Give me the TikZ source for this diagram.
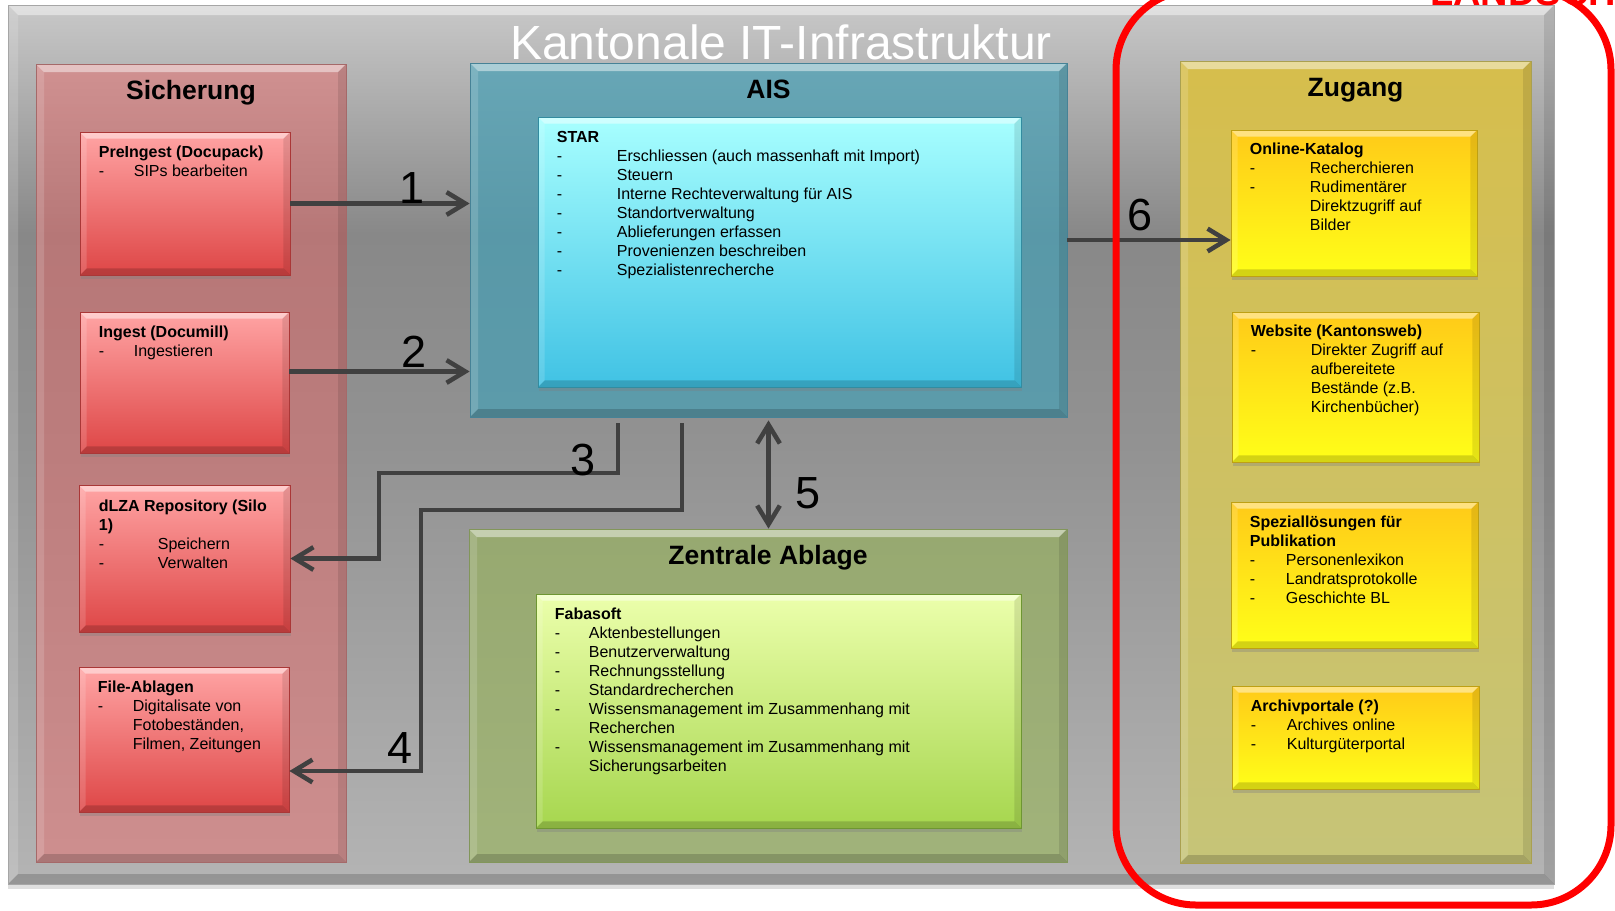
\documentclass[tikz,border=0pt]{standalone}
\usepackage{fontspec}
\setmainfont{Liberation Sans}
\usetikzlibrary{arrows.meta,shadows,fit}

\definecolor{bgtop}{RGB}{200,200,200}
\definecolor{bgdark}{RGB}{136,136,136}
\definecolor{bgmid}{RGB}{146,146,146}
\definecolor{bgbot}{RGB}{180,180,180}
\definecolor{redtop}{RGB}{255,164,164}
\definecolor{redbot}{RGB}{222,70,70}
\definecolor{redline}{RGB}{170,55,55}
\definecolor{startop}{RGB}{168,255,255}
\definecolor{starbot}{RGB}{64,194,228}
\definecolor{starline}{RGB}{50,140,160}
\definecolor{fabtop}{RGB}{236,255,172}
\definecolor{fabbot}{RGB}{166,214,78}
\definecolor{fabline}{RGB}{110,150,50}
\definecolor{yeltop}{RGB}{255,202,24}
\definecolor{yelbot}{RGB}{255,255,24}
\definecolor{yelline}{RGB}{190,160,20}
\definecolor{sichfill}{RGB}{240,100,100}
\definecolor{sichline}{RGB}{165,105,105}
\definecolor{aisfill}{RGB}{70,160,182}
\definecolor{aisline}{RGB}{70,130,150}
\definecolor{zenfill}{RGB}{150,180,86}
\definecolor{zenline}{RGB}{130,150,90}
\definecolor{zugtop}{RGB}{214,190,76}
\definecolor{zugbot}{RGB}{198,196,120}
\definecolor{zugline}{RGB}{170,160,80}
\definecolor{arrowgray}{RGB}{64,64,64}

\pgfdeclareverticalshading{bgshade}{100bp}{color(0bp)=(bgbot); color(25bp)=(bgbot); color(50bp)=(bgmid); color(62bp)=(bgdark); color(75bp)=(bgtop); color(100bp)=(bgtop)}

\begin{document}
\begin{tikzpicture}[x=0.75pt,y=0.75pt,yscale=-1,xscale=1,
  bevel/.style={path picture={
    \fill[white,opacity=.45] (path picture bounding box.north west) -- (path picture bounding box.north east) -- ([xshift=-#1,yshift=-#1]path picture bounding box.north east) -- ([xshift=#1,yshift=-#1]path picture bounding box.north west) -- cycle;
    \fill[white,opacity=.15] (path picture bounding box.north west) -- ([xshift=#1,yshift=-#1]path picture bounding box.north west) -- ([xshift=#1,yshift=#1]path picture bounding box.south west) -- (path picture bounding box.south west) -- cycle;
    \fill[black,opacity=.1] (path picture bounding box.north east) -- ([xshift=-#1,yshift=-#1]path picture bounding box.north east) -- ([xshift=-#1,yshift=#1]path picture bounding box.south east) -- (path picture bounding box.south east) -- cycle;
    \fill[black,opacity=.17] (path picture bounding box.south west) -- (path picture bounding box.south east) -- ([xshift=-#1,yshift=#1]path picture bounding box.south east) -- ([xshift=#1,yshift=#1]path picture bounding box.south west) -- cycle;
  }},
  bevel/.default=5pt,
  panel/.style={inner sep=0pt, line width=0.6pt, bevel=6pt},
  box/.style={inner sep=0pt, line width=0.6pt, bevel=5pt, drop shadow={opacity=.35,shadow xshift=1pt,shadow yshift=-3pt}},
  redbox/.style={box, draw=redline, top color=redtop, bottom color=redbot},
  starbox/.style={box, draw=starline, top color=startop, bottom color=starbot},
  fabbox/.style={box, draw=fabline, top color=fabtop, bottom color=fabbot},
  yelbox/.style={box, draw=yelline, top color=yeltop, bottom color=yelbot},
  boxtext/.style={anchor=north west, inner sep=0pt, align=left, font=\fontsize{12}{14.25}\selectfont},
  heading/.style={anchor=base, inner sep=0pt, font=\fontsize{19.9}{24}\selectfont\bfseries},
  numlabel/.style={inner sep=0pt, font=\fontsize{33.75}{34}\selectfont},
  flow/.style={draw=arrowgray, line width=3.4pt, -{Straight Barb[length=14pt,width=17pt]}},
  flowboth/.style={draw=arrowgray, line width=3.4pt, {Straight Barb[length=14pt,width=17pt]}-{Straight Barb[length=14pt,width=17pt]}}
]
\useasboundingbox (0,0) rectangle (1615,910);

%Shape: Rectangle (background)
\node[panel, draw=gray!70, shade, shading=bgshade, bevel=7.5pt, drop shadow={opacity=.25,shadow xshift=0pt,shadow yshift=-4pt}, fit={(8,5) (1554,884)}] (kanton) {};

%Shape: Rectangle (panels)
\node[panel, draw=sichline, fill=sichfill, fill opacity=.45, fit={(36,64) (346,862)}] (sicherung) {};
\node[panel, draw=aisline, fill=aisfill, fill opacity=.7, fit={(470,63) (1067,417)}] (ais) {};
\node[panel, draw=zenline, fill=zenfill, fill opacity=.6, fit={(469,529) (1067,862)}] (zentral) {};
\node[panel, draw=zugline, top color=zugtop, bottom color=zugbot, fit={(1180,61) (1531,863)}] (zugang) {};

% Text Node
\node[anchor=base, inner sep=0pt, text=white, font=\fontsize{36}{40}\selectfont] (titel) at ([shift={(0,55)}]kanton.north) {Kantonale IT-Infrastruktur};
\node[heading] (sicherung-h) at ([shift={(0,36)}]sicherung.north) {Sicherung};
\node[heading] (ais-h) at ([shift={(0,36)}]ais.north) {AIS};
\node[heading] (zentral-h) at ([shift={(0,36)}]zentral.north) {Zentrale Ablage};
\node[heading] (zugang-h) at ([shift={(0,36)}]zugang.north) {Zugang};

%Shape: Rectangle (Sicherung)
\node[redbox, fit={(80,132) (290,275)}] (preingest) {};
\node[redbox, fit={(80,312) (289,453)}] (ingest) {};
\node[redbox, fit={(79,485) (290,632)}] (dlza) {};
\node[redbox, fit={(79,667) (289,812)}] (files) {};

%Shape: Rectangle (AIS, Zentrale Ablage)
\node[starbox, fit={(538,117) (1021,387)}] (star) {};
\node[fabbox, fit={(536,594) (1021,828)}] (fabasoft) {};

%Shape: Rectangle (Zugang)
\node[yelbox, fit={(1231,130) (1477,276)}] (online) {};
\node[yelbox, fit={(1232,312) (1479,462)}] (website) {};
\node[yelbox, fit={(1231,502) (1478,648)}] (spezial) {};
\node[yelbox, fit={(1232,686) (1479,789)}] (archiv) {};

% Text Node
\node[boxtext] (preingest-t) at ([shift={(19,14.5)}]preingest.north west) {\textbf{PreIngest (Docupack)}\\\makebox[26.25pt][l]{-}SIPs bearbeiten};
\node[boxtext] (ingest-t) at ([shift={(19,14.5)}]ingest.north west) {\textbf{Ingest (Documill)}\\\makebox[26.25pt][l]{-}Ingestieren};
\node[boxtext] (dlza-t) at ([shift={(20,15.5)}]dlza.north west) {\textbf{dLZA Repository (Silo}\\\textbf{1)}\\\makebox[44.25pt][l]{-}Speichern\\\makebox[44.25pt][l]{-}Verwalten};
\node[boxtext] (files-t) at ([shift={(19,14.5)}]files.north west) {\textbf{File-Ablagen}\\\makebox[26.25pt][l]{-}Digitalisate von\\\hspace*{26.25pt}Fotobeständen,\\\hspace*{26.25pt}Filmen, Zeitungen};
\node[boxtext] (star-t) at ([shift={(19,14.5)}]star.north west) {\textbf{STAR}\\\makebox[45pt][l]{-}Erschliessen (auch massenhaft mit Import)\\\makebox[45pt][l]{-}Steuern\\\makebox[45pt][l]{-}Interne Rechteverwaltung für AIS\\\makebox[45pt][l]{-}Standortverwaltung\\\makebox[45pt][l]{-}Ablieferungen erfassen\\\makebox[45pt][l]{-}Provenienzen beschreiben\\\makebox[45pt][l]{-}Spezialistenrecherche};
\node[boxtext] (fabasoft-t) at ([shift={(19,14.5)}]fabasoft.north west) {\textbf{Fabasoft}\\\makebox[25.5pt][l]{-}Aktenbestellungen\\\makebox[25.5pt][l]{-}Benutzerverwaltung\\\makebox[25.5pt][l]{-}Rechnungsstellung\\\makebox[25.5pt][l]{-}Standardrecherchen\\\makebox[25.5pt][l]{-}Wissensmanagement im Zusammenhang mit\\\hspace*{25.5pt}Recherchen\\\makebox[25.5pt][l]{-}Wissensmanagement im Zusammenhang mit\\\hspace*{25.5pt}Sicherungsarbeiten};
\node[boxtext] (online-t) at ([shift={(19,13.5)}]online.north west) {\textbf{Online-Katalog}\\\makebox[45pt][l]{-}Recherchieren\\\makebox[45pt][l]{-}Rudimentärer\\\hspace*{45pt}Direktzugriff auf\\\hspace*{45pt}Bilder};
\node[boxtext] (website-t) at ([shift={(19,13.5)}]website.north west) {\textbf{Website (Kantonsweb)}\\\makebox[45pt][l]{-}Direkter Zugriff auf\\\hspace*{45pt}aufbereitete\\\hspace*{45pt}Bestände (z.B.\\\hspace*{45pt}Kirchenbücher)};
\node[boxtext] (spezial-t) at ([shift={(19,14.5)}]spezial.north west) {\textbf{Speziallösungen für}\\\textbf{Publikation}\\\makebox[27pt][l]{-}Personenlexikon\\\makebox[27pt][l]{-}Landratsprotokolle\\\makebox[27pt][l]{-}Geschichte BL};
\node[boxtext] (archiv-t) at ([shift={(19,14.5)}]archiv.north west) {\textbf{Archivportale (?)}\\\makebox[27pt][l]{-}Archives online\\\makebox[27pt][l]{-}Kulturgüterportal};

%Straight Lines
\coordinate (a2) at ([shift={(0,-11)}]ingest.east);
\coordinate (s3) at ([shift={(-150.5,6)}]ais.south);
\coordinate (b3) at (379,473);
\coordinate (s4) at ([shift={(-86.5,6)}]ais.south);
\coordinate (b4) at (421,510);
\coordinate (e4) at ([shift={(0,31.5)}]files.east);
\draw[flow] (preingest.east) -- (preingest.east -| ais.west);
\draw[flow] (a2) -- (a2 -| ais.west);
\draw[flow] (s3) |- (b3) |- (dlza.east);
\draw[flow] (s4) |- (b4) |- (e4);
\draw[flowboth] ([shift={(0,3)}]ais.south) -- (ais.south |- zentral.north);
\draw[flow] (ais.east) -- (ais.east -| online.west);

% Text Node
\node[numlabel] (n1) at (412,188) {1};
\node[numlabel] (n2) at (414,352) {2};
\node[numlabel] (n3) at (583,460) {3};
\node[numlabel] (n4) at (400,748) {4};
\node[numlabel] (n5) at (808,493) {5};
\node[numlabel] (n6) at (1140,215) {6};

%Shape: Rounded Rect
\draw[draw=red, line width=5.25pt, rounded corners=60pt] (1116,-10) rectangle (1611,905);
% Text Node
\node[anchor=base west, inner sep=0pt, text=red, font=\fontsize{28.5}{30}\selectfont\bfseries] (landschaft) at (1430,5) {LANDSCHAFT};

\end{tikzpicture}
\end{document}
